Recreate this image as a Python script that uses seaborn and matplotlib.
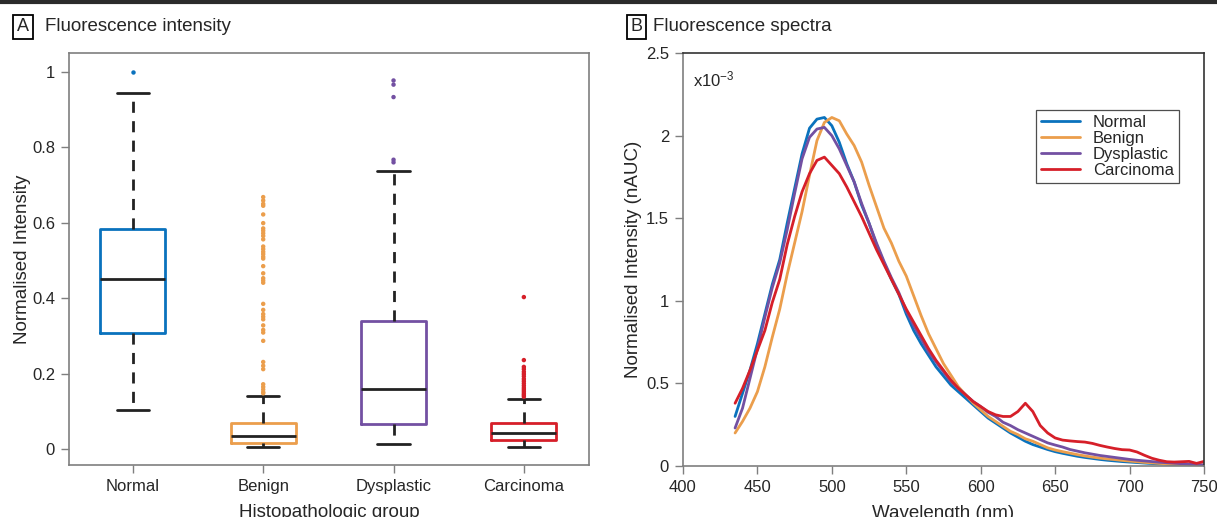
import numpy as np
import pandas as pd
import matplotlib
matplotlib.use("Agg")
import matplotlib.pyplot as plt
import seaborn as sns
from matplotlib.lines import Line2D

# ---- data: panel A (box summary: lower whisker, Q1, median, Q3, upper whisker) ----
groups = ["Normal", "Benign", "Dysplastic", "Carcinoma"]
normal_box = [0.105, 0.309, 0.452, 0.583, 0.944]
benign_box = [0.005, 0.017, 0.035, 0.068, 0.141]
dysplastic_box = [0.0125, 0.066, 0.160, 0.340, 0.736]
carcinoma_box = [0.006, 0.024, 0.042, 0.068, 0.134]

normal_out = [1.0]
benign_out = [0.668, 0.659, 0.650, 0.645, 0.622, 0.599, 0.585, 0.579, 0.572, 0.565,
              0.556, 0.537, 0.530, 0.523, 0.517, 0.510, 0.505, 0.485, 0.466, 0.453,
              0.447, 0.441, 0.385, 0.369, 0.358, 0.351, 0.344, 0.328, 0.316, 0.309,
              0.287, 0.231, 0.221, 0.212, 0.172, 0.165, 0.158, 0.151, 0.148]
dysplastic_out = [0.977, 0.966, 0.933, 0.767, 0.760]
carcinoma_out = [0.403, 0.236, 0.218, 0.212, 0.205, 0.199, 0.193, 0.186, 0.180, 0.174,
                 0.168, 0.162, 0.157, 0.152, 0.147, 0.143, 0.139]

# ---- data: panel B (normalised intensity x1e-3) ----
wavelength = list(range(435, 751, 5))
normal_spec = [0.30, 0.44, 0.58, 0.74, 0.92, 1.10, 1.25, 1.47, 1.68, 1.89,
               2.045, 2.10, 2.11, 2.06, 1.96, 1.83, 1.72, 1.58, 1.47, 1.34,
               1.23, 1.13, 1.04, 0.92, 0.82, 0.74, 0.67, 0.60, 0.545, 0.49,
               0.45, 0.41, 0.37, 0.33, 0.29, 0.26, 0.23, 0.20, 0.175, 0.15,
               0.13, 0.115, 0.10, 0.087, 0.077, 0.068, 0.059, 0.052, 0.046, 0.040,
               0.035, 0.031, 0.027, 0.024, 0.021, 0.018, 0.015, 0.013, 0.011, 0.009,
               0.008, 0.006, 0.005, 0.004]
benign_spec = [0.20, 0.27, 0.35, 0.45, 0.60, 0.78, 0.95, 1.16, 1.35, 1.54,
               1.76, 1.97, 2.08, 2.11, 2.09, 2.01, 1.94, 1.84, 1.70, 1.57,
               1.44, 1.35, 1.24, 1.15, 1.03, 0.91, 0.80, 0.71, 0.62, 0.55,
               0.48, 0.43, 0.38, 0.34, 0.30, 0.27, 0.24, 0.21, 0.19, 0.165,
               0.15, 0.13, 0.11, 0.097, 0.087, 0.078, 0.069, 0.061, 0.054, 0.048,
               0.043, 0.039, 0.034, 0.030, 0.026, 0.022, 0.019, 0.016, 0.013, 0.011,
               0.009, 0.007, 0.006, 0.005]
dysplastic_spec = [0.23, 0.35, 0.53, 0.71, 0.90, 1.08, 1.23, 1.43, 1.65, 1.86,
                   1.99, 2.04, 2.05, 2.00, 1.92, 1.82, 1.72, 1.59, 1.47, 1.35,
                   1.24, 1.14, 1.05, 0.94, 0.85, 0.77, 0.69, 0.63, 0.57, 0.51,
                   0.47, 0.43, 0.39, 0.36, 0.325, 0.30, 0.265, 0.245, 0.22, 0.20,
                   0.18, 0.16, 0.14, 0.127, 0.115, 0.10, 0.09, 0.08, 0.072, 0.064,
                   0.058, 0.052, 0.046, 0.040, 0.035, 0.031, 0.027, 0.023, 0.020, 0.017,
                   0.014, 0.011, 0.009, 0.007]
carcinoma_spec = [0.38, 0.47, 0.58, 0.70, 0.82, 0.99, 1.13, 1.34, 1.51, 1.66,
                  1.77, 1.85, 1.87, 1.82, 1.77, 1.69, 1.60, 1.51, 1.41, 1.31,
                  1.22, 1.13, 1.04, 0.95, 0.87, 0.79, 0.71, 0.64, 0.58, 0.52,
                  0.47, 0.43, 0.39, 0.36, 0.33, 0.31, 0.30, 0.30, 0.33, 0.38,
                  0.33, 0.245, 0.20, 0.17, 0.157, 0.152, 0.148, 0.145, 0.137, 0.125,
                  0.115, 0.106, 0.099, 0.097, 0.085, 0.065, 0.047, 0.035, 0.026, 0.024,
                  0.026, 0.028, 0.016, 0.028]

colors = ["#0a72bd", "#eb9e4c", "#7350a2", "#d61f29"]
palette = dict(zip(groups, colors))

# ---- style ----
sns.set_style("white")
plt.rcParams["font.family"] = ["Liberation Sans", "DejaVu Sans"]
plt.rcParams["mathtext.default"] = "regular"

fig = plt.figure(figsize=(12.17, 5.17), dpi=100)
ax1 = fig.add_axes([0.0567, 0.1006, 0.4273, 0.797])
ax2 = fig.add_axes([0.5612, 0.0986, 0.4281, 0.7988])

# dark rule across the top
fig.add_artist(Line2D([0, 1], [0.997, 0.997], transform=fig.transFigure,
                      color="#2b2b2b", lw=3))

# ---- panel A: boxplots ----
box_df = pd.DataFrame({
    "group": np.repeat(groups, 5),
    "value": normal_box + benign_box + dysplastic_box + carcinoma_box,
})
out_df = pd.DataFrame({
    "group": (["Normal"] * len(normal_out) + ["Benign"] * len(benign_out)
              + ["Dysplastic"] * len(dysplastic_out) + ["Carcinoma"] * len(carcinoma_out)),
    "value": normal_out + benign_out + dysplastic_out + carcinoma_out,
})

sns.boxplot(data=box_df, x="group", y="value", hue="group", order=groups,
            hue_order=groups, palette=palette, fill=False, width=0.5, whis=(0, 100),
            showfliers=False, linewidth=2, legend=False, ax=ax1,
            medianprops={"color": "#222222", "linewidth": 2},
            whiskerprops={"color": "#222222", "linewidth": 2, "linestyle": (0, (4, 3))},
            capprops={"color": "#222222", "linewidth": 2})
sns.stripplot(data=out_df, x="group", y="value", hue="group", order=groups,
              hue_order=groups, palette=palette, jitter=False, size=3.2,
              linewidth=0, legend=False, ax=ax1)

ax1.set_xlim(-0.49, 3.5)
ax1.set_ylim(-0.042, 1.05)
ax1.set_yticks([0, 0.2, 0.4, 0.6, 0.8, 1.0])
ax1.set_yticklabels(["0", "0.2", "0.4", "0.6", "0.8", "1"])
ax1.set_xlabel("Histopathologic group", fontsize=13.5, labelpad=7)
ax1.set_ylabel("Normalised Intensity", fontsize=13.5, labelpad=1)
for sp in ax1.spines.values():
    sp.set_color("#7f7f7f")
    sp.set_linewidth(1.2)
ax1.tick_params(axis="both", direction="out", length=6, width=1, color="#7f7f7f",
                labelsize=12, pad=4, left=True, bottom=True)

# ---- panel B: spectra ----
spec_df = pd.DataFrame({
    "wavelength": wavelength * 4,
    "intensity": normal_spec + benign_spec + dysplastic_spec + carcinoma_spec,
    "group": np.repeat(groups, len(wavelength)),
})
sns.lineplot(data=spec_df, x="wavelength", y="intensity", hue="group",
             hue_order=groups, palette=palette, linewidth=2, ax=ax2)

ax2.set_xlim(400, 750)
ax2.set_ylim(0, 2.5)
ax2.set_xticks(range(400, 751, 50))
ax2.set_yticks([0, 0.5, 1, 1.5, 2, 2.5])
ax2.set_yticklabels(["0", "0.5", "1", "1.5", "2", "2.5"])
ax2.set_xlabel("Wavelength (nm)", fontsize=13.5, labelpad=7)
ax2.set_ylabel("Normalised Intensity (nAUC)", fontsize=13.5, labelpad=3)
for name, sp in ax2.spines.items():
    sp.set_linewidth(1.2)
    sp.set_color("#7f7f7f" if name in ("left", "bottom") else "#333333")
ax2.tick_params(axis="both", direction="out", length=6, width=1, color="#7f7f7f",
                labelsize=12, pad=4, left=True, bottom=True)
ax2.text(0.02, 0.96, r"x10$^{-3}$", transform=ax2.transAxes, fontsize=12,
         va="top", ha="left")

leg = ax2.legend(title=None, loc="upper left", bbox_to_anchor=(0.678, 0.862),
                 borderaxespad=0, fontsize=12, frameon=True, fancybox=False,
                 handlelength=2.3, labelspacing=0.05, borderpad=0.3,
                 handletextpad=0.8)
leg.get_frame().set_edgecolor("#222222")
leg.get_frame().set_linewidth(0.9)

# ---- panel titles ----
box_kw = dict(boxstyle="square,pad=0.2", facecolor="white", edgecolor="black", lw=1.3)
fig.text(0.0189, 0.948, "A", fontsize=13, ha="center", va="center", bbox=box_kw)
fig.text(0.037, 0.948, "Fluorescence intensity", fontsize=13.5, ha="left", va="center")
fig.text(0.523, 0.948, "B", fontsize=13, ha="center", va="center", bbox=box_kw)
fig.text(0.5365, 0.948, "Fluorescence spectra", fontsize=13.5, ha="left", va="center")

fig.savefig("out.png", dpi=100)
